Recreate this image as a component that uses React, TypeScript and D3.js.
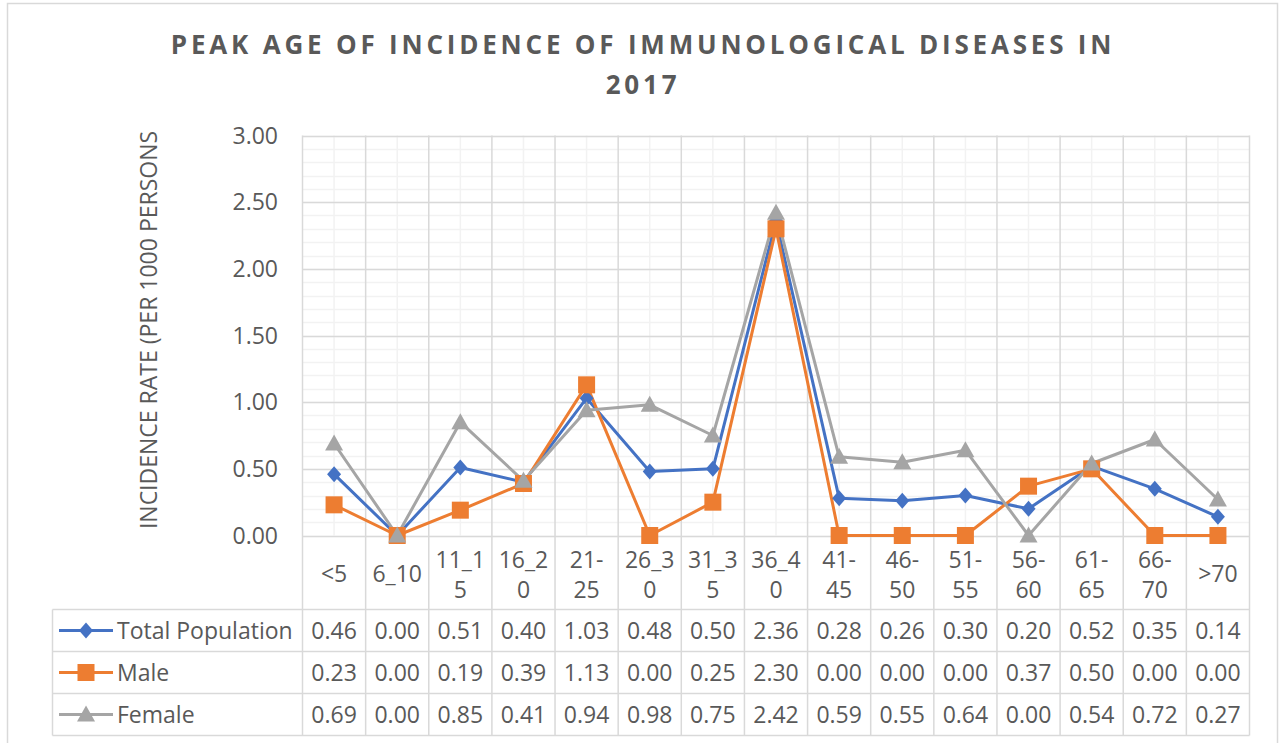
import React from "react";
import * as d3 from "d3";

const categories = ["<5", "6_10", "11_15", "16_20", "21-25", "26_30", "31_35", "36_40", "41-45", "46-50", "51-55", "56-60", "61-65", "66-70", ">70"];
const categoryLines = [["<5"], ["6_10"], ["11_1", "5"], ["16_2", "0"], ["21-", "25"], ["26_3", "0"], ["31_3", "5"], ["36_4", "0"], ["41-", "45"], ["46-", "50"], ["51-", "55"], ["56-", "60"], ["61-", "65"], ["66-", "70"], [">70"]];
const totalPopulation = [0.46, 0.0, 0.51, 0.4, 1.03, 0.48, 0.5, 2.36, 0.28, 0.26, 0.3, 0.2, 0.52, 0.35, 0.14];
const male = [0.23, 0.0, 0.19, 0.39, 1.13, 0.0, 0.25, 2.3, 0.0, 0.0, 0.0, 0.37, 0.5, 0.0, 0.0];
const female = [0.69, 0.0, 0.85, 0.41, 0.94, 0.98, 0.75, 2.42, 0.59, 0.55, 0.64, 0.0, 0.54, 0.72, 0.27];
const yTicks = [0, 0.5, 1.0, 1.5, 2.0, 2.5, 3.0];
const seriesNames = ["Total Population", "Male", "Female"];
const seriesColors = ["#4472C4", "#ED7D31", "#A5A5A5"];
const seriesMarkers = ["diamond", "square", "triangle"];

const FONT = "'Open Sans', 'Segoe UI', sans-serif";
const TXT = "#595959";

function Marker({ type, x, y, color }: { type: string; x: number; y: number; color: string }) {
  if (type === "diamond") {
    const rx = 7, ry = 8;
    return <path d={`M${x},${y - ry}L${x + rx},${y}L${x},${y + ry}L${x - rx},${y}Z`} fill={color} />;
  }
  if (type === "square") {
    const r = 8.5;
    return <rect x={x - r} y={y - r} width={2 * r} height={2 * r} fill={color} />;
  }
  return <path d={`M${x},${y - 9}L${x + 9},${y + 7}L${x - 9},${y + 7}Z`} fill={color} />;
}

export default function App() {
  const W = 1281, H = 743;
  const left = 302.5, right = 1249.5, top = 135.5, bottom = 535.5;
  const x = d3.scaleBand<string>().domain(categories).range([left, right]);
  const y = d3.scaleLinear().domain([0, 3]).range([bottom, top]);
  const bw = x.bandwidth();
  const cx = (c: string) => (x(c) as number) + bw / 2;
  const series = [totalPopulation, male, female];
  const line = d3.line<number>().x((_, i) => cx(categories[i])).y((v) => y(v));
  const minorTicks = d3.range(0, 3.0001, 0.1);
  const tableLeft = 52.5;
  const rowTops = [609.5, 651.5, 693.5, 735.5];
  const major = "#D9D9D9";
  const minor = "#F2F2F2";
  const FS = 23;

  return (
    <svg width={W} height={H} style={{ display: "block", position: "absolute", left: 0, top: 0 }}>
      <rect x={0} y={0} width={W} height={H} fill="#fff" />
      <rect x={7.5} y={3.5} width={1270} height={760} fill="#fff" stroke="#D9D9D9" strokeWidth={1.5} />
      <text x={643} y={54} textAnchor="middle" fontFamily={FONT} fontWeight="bold" fontSize={26} fill={TXT} letterSpacing={3.8}>
        PEAK AGE OF INCIDENCE OF IMMUNOLOGICAL DISEASES IN
      </text>
      <text x={643} y={94} textAnchor="middle" fontFamily={FONT} fontWeight="bold" fontSize={26} fill={TXT} letterSpacing={3.8}>
        2017
      </text>
      {minorTicks.map((t, i) => (
        <line key={"mh" + i} x1={left} x2={right} y1={Math.round(y(t)) + 0.5} y2={Math.round(y(t)) + 0.5} stroke={minor} strokeWidth={1.5} />
      ))}
      {categories.map((c) => (
        <line key={"mv" + c} x1={cx(c)} x2={cx(c)} y1={top} y2={bottom} stroke={minor} strokeWidth={1.5} />
      ))}
      {yTicks.map((t) => (
        <line key={"h" + t} x1={left} x2={right} y1={Math.round(y(t)) + 0.5} y2={Math.round(y(t)) + 0.5} stroke={major} strokeWidth={1.5} />
      ))}
      {categories.map((c) => (
        <line key={"v" + c} x1={x(c)} x2={x(c)} y1={top} y2={rowTops[3]} stroke={major} strokeWidth={1.5} />
      ))}
      <line x1={right} x2={right} y1={top} y2={rowTops[3]} stroke={major} strokeWidth={1.5} />
      {rowTops.map((ry, i) => (
        <line key={"r" + i} x1={tableLeft} x2={right} y1={ry} y2={ry} stroke={major} strokeWidth={1.5} />
      ))}
      <line x1={tableLeft} x2={tableLeft} y1={rowTops[0]} y2={rowTops[3]} stroke={major} strokeWidth={1.5} />
      {yTicks.map((t) => (
        <text key={"yt" + t} x={278} y={y(t) + 8} textAnchor="end" fontFamily={FONT} fontSize={FS} fill={TXT}>
          {t.toFixed(2)}
        </text>
      ))}
      <text transform={`translate(157,${330}) rotate(-90)`} textAnchor="middle" fontFamily={FONT} fontSize={FS} fill={TXT}>
        INCIDENCE RATE (PER 1000 PERSONS
      </text>
      {categories.map((c, i) => {
        const lines = categoryLines[i];
        return lines.map((l, j) => (
          <text key={c + j} x={cx(c)} y={lines.length === 1 ? 582 : 568 + j * 30} textAnchor="middle" fontFamily={FONT} fontSize={FS} fill={TXT}>
            {l}
          </text>
        ));
      })}
      {series.map((s, k) => (
        <path key={"l" + k} d={line(s) as string} fill="none" stroke={seriesColors[k]} strokeWidth={3} strokeLinejoin="round" />
      ))}
      {series.map((s, k) =>
        s.map((v, i) => <Marker key={"m" + k + i} type={seriesMarkers[k]} x={cx(categories[i])} y={y(v)} color={seriesColors[k]} />)
      )}
      {series.map((s, k) => {
        const rowMid = (rowTops[k] + rowTops[k + 1]) / 2;
        return (
          <g key={"row" + k}>
            <line x1={59} x2={113} y1={rowMid} y2={rowMid} stroke={seriesColors[k]} strokeWidth={3} />
            <Marker type={seriesMarkers[k]} x={86} y={rowMid} color={seriesColors[k]} />
            <text x={117} y={rowMid + 8} fontFamily={FONT} fontSize={FS} fill={TXT}>
              {seriesNames[k]}
            </text>
            {s.map((v, i) => (
              <text key={i} x={cx(categories[i])} y={rowMid + 8} textAnchor="middle" fontFamily={FONT} fontSize={FS} fill={TXT}>
                {v.toFixed(2)}
              </text>
            ))}
          </g>
        );
      })}
    </svg>
  );
}
